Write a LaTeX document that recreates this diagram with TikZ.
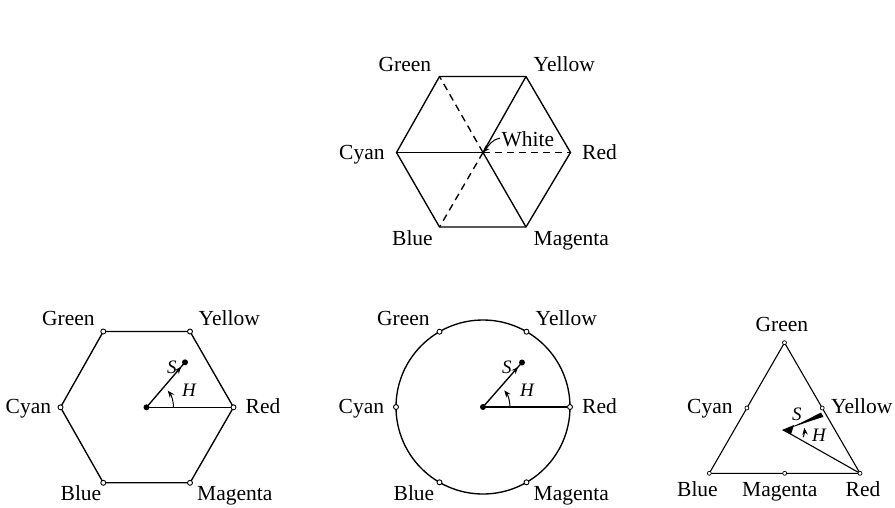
\documentclass[tikz,border=0pt]{standalone}
\usepackage{fontspec}
\setmainfont{Liberation Serif}
\usetikzlibrary{arrows.meta,calc}
\begin{document}
\begin{tikzpicture}[x=1pt,y=-1pt, line width=1.35pt,
 lbl/.style={anchor=base west, inner sep=0pt, font=\fontsize{21.5}{24}\selectfont},
 ital/.style={anchor=base west, inner sep=0pt, font=\fontsize{19}{22}\selectfont\itshape},
 vtx/.style={circle, draw, fill=white, line width=0.9pt, inner sep=0pt, minimum size=5pt},
 dotn/.style={circle, fill=black, inner sep=0pt, minimum size=6pt},
 tip/.style={-{Stealth[length=7pt,width=5.5pt]}},
 dashline/.style={dash pattern=on 7pt off 5pt}
]
\useasboundingbox (0,0) rectangle (895,507);

% ---------------- top hexagon ----------------
\coordinate (tc) at (483,152.5);
\coordinate (tG) at (439.5,76.5);
\coordinate (tY) at (526,76.5);
\coordinate (tC) at (396.5,152.5);
\coordinate (tR) at (570.5,152.5);
\coordinate (tB) at (439.5,227);
\coordinate (tM) at (526,227);
\draw (tG) -- (tY) -- (tR) -- (tM) -- (tB) -- (tC) -- cycle;
\draw (tC) -- (tc);
\draw (tY) -- (tc) -- (tM);
\draw[dashline] (tc) -- (tG);
\draw[dashline] (tc) -- (tB);
\draw[dashline] (tc) -- (tR);
\node[lbl] (tGl) at (378,71.5) {Green};
\node[lbl] (tYl) at (533,71.5) {Yellow};
\node[lbl] (tCl) at (338.5,159.5) {Cyan};
\node[lbl] (tRl) at (581.5,159.5) {Red};
\node[lbl] (tBl) at (391.5,245) {Blue};
\node[lbl] (tMl) at (533,245) {Magenta};
\node[lbl] (white) at (501,146.5) {White};
\draw[tip, line width=1pt] ($(white.west)+(-1,-1)$) to[out=190,in=50] (tc);

% ---------------- bottom-left hexagon ----------------
\coordinate (hc) at (146.5,407.3);
\coordinate (hS) at (185,362.3);
\draw (103.3,331.5) -- (190,331.5) -- (233.5,407.3) -- (190,482.8) -- (103.3,482.8) -- (60.5,407.3) -- cycle;
\node[vtx] (hG) at (103.3,331.5) {};
\node[vtx] (hY) at (190,331.5) {};
\node[vtx] (hC) at (60.5,407.3) {};
\node[vtx] (hR) at (233.5,407.3) {};
\node[vtx] (hB) at (103.3,482.8) {};
\node[vtx] (hM) at (190,482.8) {};
\draw (hc) -- (hR);
\draw[tip] (hc) -- ($(hc)!0.9!(hS)$);
\draw ($(hc)!0.85!(hS)$) -- (hS);
\draw[tip, line width=1pt] ($(hc)+(27,0)$) arc[start angle=0, end angle=-38, radius=27];
\node[dotn] (hcd) at (hc) {};
\node[dotn] (hSd) at (hS) {};
\node[ital] (hSl) at (166.5,373) {S};
\node[ital] (hHl) at (181.5,396.5) {H};
\node[lbl] (hGl) at (41.5,325) {Green};
\node[lbl] (hYl) at (198,325) {Yellow};
\node[lbl] (hCl) at (5,413.5) {Cyan};
\node[lbl] (hRl) at (245,413.5) {Red};
\node[lbl] (hBl) at (60,500) {Blue};
\node[lbl] (hMl) at (196.5,500) {Magenta};

% ---------------- circle ----------------
\coordinate (cc) at (483,407);
\coordinate (cS) at (522,362.5);
\draw (cc) circle[radius=87];
\node[vtx] (cG) at (439.5,331.7) {};
\node[vtx] (cY) at (526.5,331.7) {};
\node[vtx] (cC) at (396,407) {};
\node[vtx] (cR) at (570,407) {};
\node[vtx] (cB) at (439.5,482.3) {};
\node[vtx] (cM) at (526.5,482.3) {};
\draw (cc) -- (cR);
\draw[tip] (cc) -- ($(cc)!0.9!(cS)$);
\draw ($(cc)!0.85!(cS)$) -- (cS);
\draw[tip, line width=1pt] ($(cc)+(27,0)$) arc[start angle=0, end angle=-38, radius=27];
\node[dotn] (ccd) at (cc) {};
\node[dotn] (cSd) at (cS) {};
\node[ital] (cSl) at (501.5,373) {S};
\node[ital] (cHl) at (519.5,396.5) {H};
\node[lbl] (cGl) at (376.5,325) {Green};
\node[lbl] (cYl) at (535,325) {Yellow};
\node[lbl] (cCl) at (338,413.5) {Cyan};
\node[lbl] (cRl) at (581.5,413.5) {Red};
\node[lbl] (cBl) at (393,500) {Blue};
\node[lbl] (cMl) at (533,500) {Magenta};

% ---------------- triangle ----------------
\coordinate (rc) at (783.5,430);
\draw[line width=1.1pt] (784.5,342.7) -- (860,473.3) -- (709.3,473.3) -- cycle;
\node[vtx, minimum size=4pt, line width=0.7pt] (rG) at (784.5,342.7) {};
\node[vtx, minimum size=4pt, line width=0.7pt] (rB) at (709.3,473.3) {};
\node[vtx, minimum size=4pt, line width=0.7pt] (rR) at (860,473.3) {};
\node[vtx, minimum size=4pt, line width=0.7pt] (rC) at (746.9,408) {};
\node[vtx, minimum size=4pt, line width=0.7pt] (rY) at (822.2,408) {};
\node[vtx, minimum size=4pt, line width=0.7pt] (rM) at (784.7,473.3) {};
\draw[line width=1.1pt] (rc) -- (rR);
\fill (rc) .. controls (800,424) and (810,418) .. (821,412.5) -- (823.5,417) .. controls (812,420) and (800,425) .. cycle;
\fill (782,430) -- (794,425) -- (791,434.5) -- cycle;
\draw[tip, line width=1pt] ($(rc)+(19.7,7.2)$) arc[start angle=20, end angle=-6, radius=21];
\node[ital] (rSl) at (791.5,420) {S};
\node[ital] (rHl) at (811.5,441.5) {H};
\node[lbl] (rGl) at (755,331.5) {Green};
\node[lbl] (rCl) at (686.5,413.5) {Cyan};
\node[lbl] (rYl) at (830.5,413.5) {Yellow};
\node[lbl] (rBl) at (676.5,496.5) {Blue};
\node[lbl] (rMl) at (741.5,496.5) {Magenta};
\node[lbl] (rRl) at (845,496.5) {Red};
\end{tikzpicture}
\end{document}
